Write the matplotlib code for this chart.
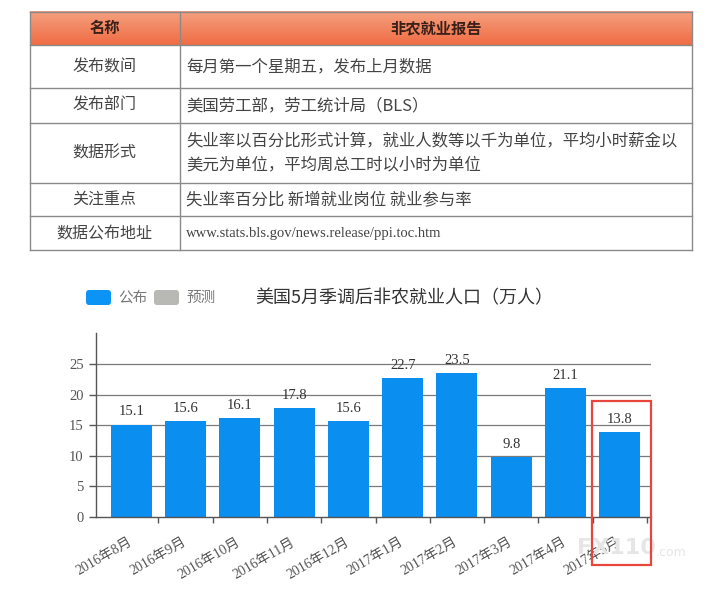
import numpy as np
import matplotlib
matplotlib.use("Agg")
import matplotlib.pyplot as plt
from matplotlib.patches import Rectangle, FancyBboxPatch

CJK = ["Noto Sans CJK SC", "DejaVu Sans"]
SERIF = ["Liberation Serif", "Noto Sans CJK SC"]

# ---------------------------------------------------------------------------
# data
# ---------------------------------------------------------------------------
header = ["名称", "非农就业报告"]
row_names = ["发布数间", "发布部门", "数据形式", "关注重点", "数据公布地址"]
row_texts = [
    "每月第一个星期五，发布上月数据",
    "美国劳工部，劳工统计局（BLS）",
    "失业率以百分比形式计算，就业人数等以千为单位，平均小时薪金以\n美元为单位，平均周总工时以小时为单位",
    "失业率百分比 新增就业岗位 就业参与率",
    "www.stats.bls.gov/news.release/ppi.toc.htm",
]

months = ["2016年8月", "2016年9月", "2016年10月", "2016年11月", "2016年12月",
          "2017年1月", "2017年2月", "2017年3月", "2017年4月", "2017年5月"]
values = [15.1, 15.6, 16.1, 17.8, 15.6, 22.7, 23.5, 9.8, 21.1, 13.8]
y_ticks = [0, 5, 10, 15, 20, 25]

title = "美国5月季调后非农就业人口（万人）"
legend_labels = ["公布", "预测"]

BLUE = "#0a8ef0"
W, H = 726, 595

fig = plt.figure(figsize=(W / 100, H / 100), dpi=100)
fig.patch.set_facecolor("white")

# overlay axes in pixel coords (table, legend, title, red box)
ov = fig.add_axes([0, 0, 1, 1], zorder=3)
ov.set_xlim(0, W)
ov.set_ylim(H, 0)
ov.axis("off")

# ---------------------------------------------------------------------------
# table
# ---------------------------------------------------------------------------
x_left, x_div, x_right = 29.5, 179.5, 692
row_lines = [11.7, 45, 88.3, 122.7, 182.7, 216, 250]

# header gradient
grad = np.linspace(0, 1, 50).reshape(-1, 1)
cmap = matplotlib.colors.LinearSegmentedColormap.from_list("hdr", ["#f5a07f", "#ef6c44"])
ov.imshow(grad, cmap=cmap, extent=(x_left, x_right, row_lines[1], row_lines[0]),
          aspect="auto", zorder=1)

line_kw = dict(color="#8a8a8a", lw=1.0, zorder=2)
for y in row_lines:
    ov.plot([x_left, x_right], [y, y], **line_kw)
ov.plot([x_left, x_left], [row_lines[0], row_lines[-1]], **line_kw)
ov.plot([x_right, x_right], [row_lines[0], row_lines[-1]], **line_kw)
ov.plot([x_div, x_div], [row_lines[0], row_lines[-1]], **line_kw)

cx_left = (x_left + x_div) / 2
cx_right = (x_div + x_right) / 2
yh = (row_lines[0] + row_lines[1]) / 2
ov.text(cx_left, yh, header[0], family=CJK, fontsize=11, fontweight="bold",
        color="#3a2018", ha="center", va="center", zorder=3)
ov.text(cx_right, yh, header[1], family=CJK, fontsize=11, fontweight="bold",
        color="#3a2018", ha="center", va="center", zorder=3)

for i, (name, txt) in enumerate(zip(row_names, row_texts)):
    yc = (row_lines[i + 1] + row_lines[i + 2]) / 2
    ov.text(cx_left, yc, name, family=CJK, fontsize=11.5, color="#444444",
            ha="center", va="center", zorder=3)
    if txt.startswith("www"):
        ov.text(186, yc, txt, family=SERIF, fontsize=10.5, color="#444444",
                ha="left", va="center", zorder=3)
    else:
        ov.text(186, yc, txt, family=CJK, fontsize=11.8, color="#444444",
                ha="left", va="center", linespacing=1.55, zorder=3)

# ---------------------------------------------------------------------------
# legend + title
# ---------------------------------------------------------------------------
ov.add_patch(FancyBboxPatch((86, 290), 25, 15, boxstyle="round,pad=0,rounding_size=3",
                            fc="#0b93f5", ec="none"))
ov.text(118, 297.5, legend_labels[0], family=CJK, fontsize=10.5, color="#777777",
        ha="left", va="center")
ov.add_patch(FancyBboxPatch((154, 290), 25, 15, boxstyle="round,pad=0,rounding_size=3",
                            fc="#b8b8b4", ec="none"))
ov.text(186, 297.5, legend_labels[1], family=CJK, fontsize=10.5, color="#777777",
        ha="left", va="center")
ov.text(404, 298, title, family=CJK, fontsize=13, color="#333333",
        ha="center", va="center")

# ---------------------------------------------------------------------------
# bar chart
# ---------------------------------------------------------------------------
ax = fig.add_axes([96 / W, 1 - 516.7 / H, (650.7 - 96) / W, (516.7 - 333) / H], zorder=1)
ax.set_facecolor("none")
x = np.arange(len(values))
ax.bar(x, values, width=0.755, color=BLUE, zorder=2)
for xi, v in zip(x, values):
    ax.text(xi, v + 1.0, f"{v:.1f}", family=SERIF, fontsize=10.5, color="#333333",
            ha="center", va="bottom", zorder=3)

ax.set_xlim(-0.65, 9.57)
ax.set_ylim(0, 30.1)
for yt in y_ticks[1:]:
    ax.axhline(yt, color="#7a7a7a", lw=0.9, zorder=1)

ax.set_yticks(y_ticks)
ax.set_yticklabels([str(t) for t in y_ticks], family=SERIF, fontsize=10.5, color="#555555")
ax.tick_params(axis="y", length=5, width=1, color="#555555", pad=4)

ax.set_xticks(x + 0.5)
ax.set_xticklabels([])
ax.tick_params(axis="x", length=4, width=1, color="#555555", direction="out")
for xi, lab in zip(x, months):
    ax.text(xi - 0.07, -3.1, lab, family=SERIF, fontsize=10, color="#555555",
            rotation=30, ha="right", va="top", rotation_mode="anchor")

for side in ["top", "right"]:
    ax.spines[side].set_visible(False)
for side in ["left", "bottom"]:
    ax.spines[side].set_color("#555555")
    ax.spines[side].set_linewidth(1.0)

# watermark
ov.text(616, 548, "FX110", family=["DejaVu Sans"], fontsize=16, fontweight="bold",
        color="#e6e6e6", ha="center", va="center", zorder=0)
ov.text(656, 552, ".com", family=["DejaVu Sans"], fontsize=9, color="#e6e6e6",
        ha="left", va="center", zorder=0)

# highlight box
ov.add_patch(Rectangle((591.7, 401), 59, 164, fill=False, ec="#e8453c", lw=1.6, zorder=4))

fig.savefig("out.png", dpi=100, facecolor="white")
